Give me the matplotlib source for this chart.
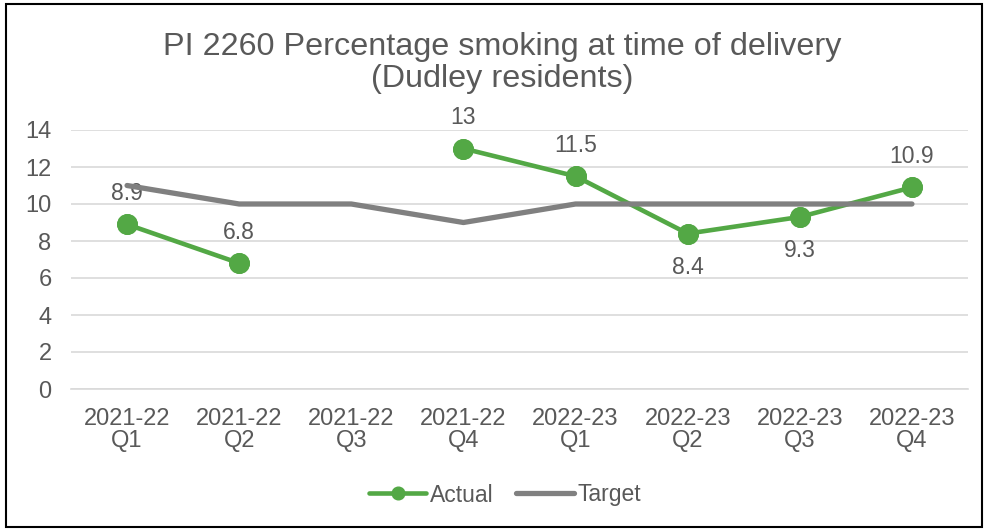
import numpy as np
import matplotlib.pyplot as plt
from matplotlib.patches import Rectangle

quarters = ["2021-22\nQ1", "2021-22\nQ2", "2021-22\nQ3", "2021-22\nQ4",
            "2022-23\nQ1", "2022-23\nQ2", "2022-23\nQ3", "2022-23\nQ4"]
actual = [8.9, 6.8, np.nan, 13, 11.5, 8.4, 9.3, 10.9]
target = [11, 10, 10, 9, 10, 10, 10, 10]
label_below = [False, False, False, False, False, True, True, False]

green = "#53A845"
grey = "#808080"
text_col = "#595959"

plt.rcParams["font.family"] = ["Liberation Sans", "DejaVu Sans"]

fig = plt.figure(figsize=(9.89, 5.31), dpi=100)
ax = fig.add_axes([71 / 989, 1 - 389 / 531, 897 / 989, 259 / 531])

x = np.arange(len(quarters))
(l_act,) = ax.plot(x, actual, color=green, linewidth=3.3, marker="o", markersize=14,
                   solid_capstyle="round", zorder=3, label="Actual")
(l_tgt,) = ax.plot(x, target, color=grey, linewidth=3.8, solid_capstyle="round",
                   zorder=4, label="Target")
# markers drawn above target line
ax.plot(x, actual, linestyle="none", marker="o", markersize=14, color=green, zorder=5)

for xi, v, below in zip(x, actual, label_below):
    if np.isnan(v):
        continue
    txt = f"{v:g}"
    if below:
        ax.annotate(txt, (xi, v), xytext=(0, -16), textcoords="offset points",
                    ha="center", va="top", fontsize=16.5, color=text_col)
    else:
        ax.annotate(txt, (xi, v), xytext=(0, 14), textcoords="offset points",
                    ha="center", va="bottom", fontsize=16.5, color=text_col)

ax.set_xlim(-0.5, len(quarters) - 0.5)
ax.set_ylim(0, 14)
ax.set_yticks(range(0, 15, 2))
ax.set_xticks(x)
ax.set_xticklabels(quarters, linespacing=1.0)
ax.tick_params(axis="both", length=0, labelsize=17, labelcolor=text_col)
ax.tick_params(axis="x", pad=14)
ax.tick_params(axis="y", pad=14)
ax.grid(axis="y", color="#D9D9D9", linewidth=1.2)
ax.set_axisbelow(True)
for s in ["top", "right", "left"]:
    ax.spines[s].set_visible(False)
ax.spines["bottom"].set_color("#D9D9D9")
ax.spines["bottom"].set_linewidth(1.2)

fig.text(0.508, 1 - 63 / 531, "PI 2260 Percentage smoking at time of delivery\n(Dudley residents)",
         ha="center", va="center", fontsize=23.3, color=text_col, linespacing=1.1)

fig.legend(handles=[l_act, l_tgt], loc="center", bbox_to_anchor=(505 / 989, 1 - 495 / 531),
           ncol=2, frameon=False, fontsize=16.5, handlelength=2.5, handletextpad=0.15,
           columnspacing=1.0, labelcolor=text_col, markerscale=0.65)

fig.add_artist(Rectangle((6 / 989, 4 / 531), 976 / 989, 523 / 531, transform=fig.transFigure,
                         fill=False, edgecolor="black", linewidth=1.5))

fig.savefig("out.png", dpi=100, facecolor="white")
